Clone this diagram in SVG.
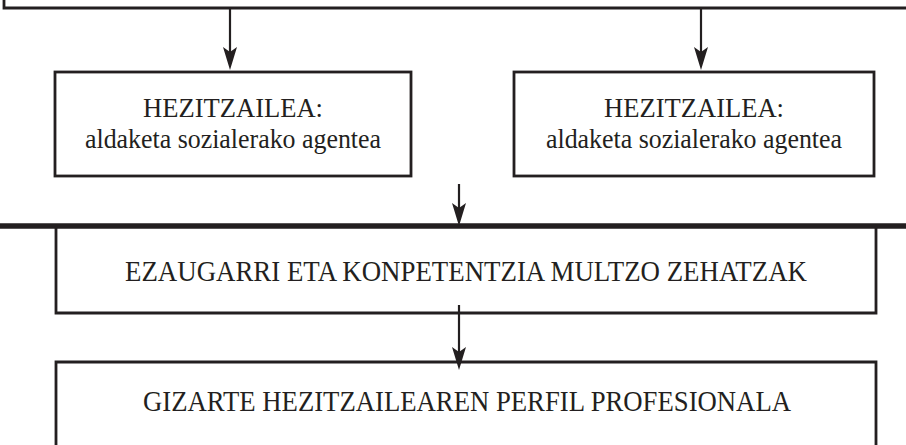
<svg xmlns="http://www.w3.org/2000/svg" width="906" height="445" viewBox="0 0 906 445">
<style>
.box{fill:none;stroke:#231f20;stroke-width:2.8}
.thick{fill:none;stroke:#231f20;stroke-width:5.5}
.conn{fill:none;stroke:#231f20;stroke-width:2.2}
.t{font-family:"Liberation Serif","Times New Roman",serif;fill:#231f20;text-anchor:middle}
.s{font-size:27px}
.b{font-size:30px}
</style>
<defs>
<marker id="ah" viewBox="-1 -8 25 16" refX="15" refY="0" markerWidth="25" markerHeight="16" markerUnits="userSpaceOnUse" orient="auto">
<path d="M0,-7 L23,0 L0,7 L5,0 Z" fill="#231f20"/>
</marker>
</defs>
<rect width="906" height="445" fill="#fff"/>
<g id="top">
<path class="box" d="M4,0 V8 H906"/>
</g>
<g id="left">
<rect class="box" x="55" y="72" width="356" height="104"/>
<text class="t s" x="233" y="117" textLength="180" lengthAdjust="spacingAndGlyphs">HEZITZAILEA:</text>
<text class="t s" x="233" y="148" textLength="296" lengthAdjust="spacingAndGlyphs">aldaketa sozialerako agentea</text>
</g>
<g id="right">
<rect class="box" x="514" y="72" width="360" height="104"/>
<text class="t s" x="694" y="117" textLength="180" lengthAdjust="spacingAndGlyphs">HEZITZAILEA:</text>
<text class="t s" x="694" y="148" textLength="296" lengthAdjust="spacingAndGlyphs">aldaketa sozialerako agentea</text>
</g>
<g id="middle">
<path class="thick" d="M0,226 H906"/>
<path class="box" d="M56,226 V313 H876 V226"/>
<text class="t b" x="466" y="281" textLength="682" lengthAdjust="spacingAndGlyphs">EZAUGARRI ETA KONPETENTZIA MULTZO ZEHATZAK</text>
</g>
<g id="bottom">
<path class="box" d="M56,445 V362 H876 V445"/>
<text class="t b" x="467" y="411" textLength="648" lengthAdjust="spacingAndGlyphs">GIZARTE HEZITZAILEAREN PERFIL PROFESIONALA</text>
</g>
<g id="connectors">
<line class="conn" x1="230" y1="8" x2="230" y2="62" marker-end="url(#ah)"/>
<line class="conn" x1="701" y1="8" x2="701" y2="62" marker-end="url(#ah)"/>
<line class="conn" x1="459" y1="184" x2="459" y2="218" marker-end="url(#ah)"/>
<line class="conn" x1="459" y1="305" x2="459" y2="362" marker-end="url(#ah)"/>
</g>
</svg>
